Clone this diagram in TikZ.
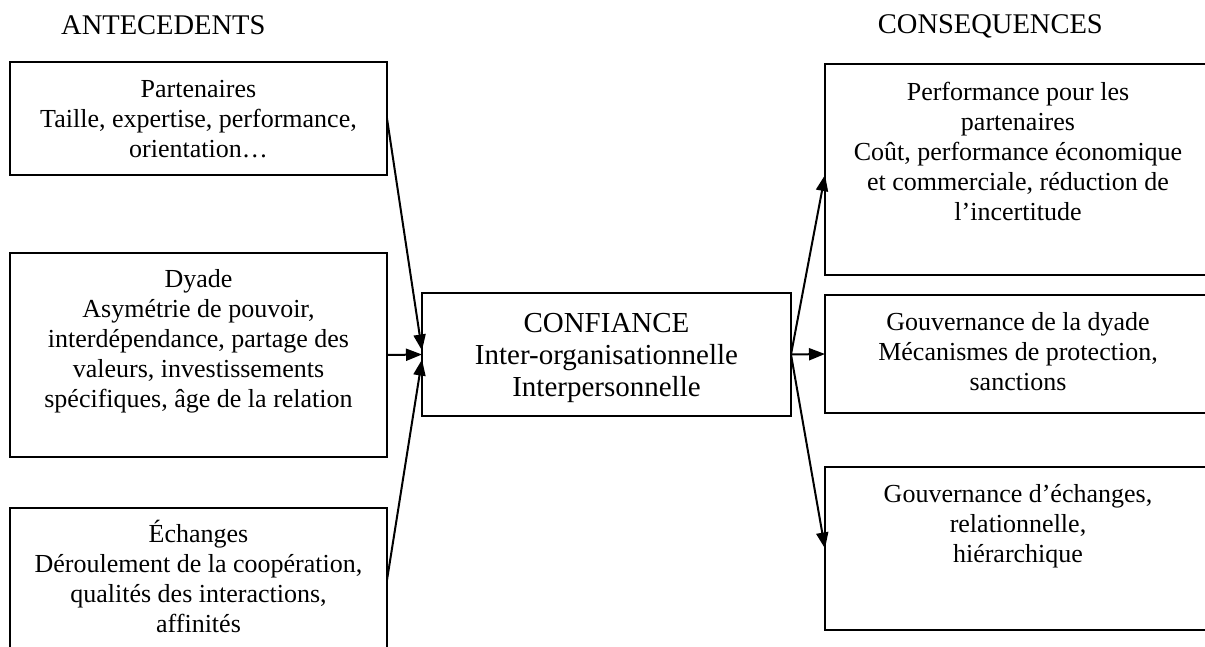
\documentclass[tikz,border=0pt]{standalone}
\usepackage{fontspec}
\setmainfont{Liberation Serif}
\usetikzlibrary{arrows.meta}

% centred block of lines whose baseline is that of its first line
\newcommand{\cell}[2]{\parbox[t]{#1}{\centering #2}}

\begin{document}
\begin{tikzpicture}[x=1pt,y=-1pt,
  frame/.style={draw, line width=2pt, inner sep=0pt, outer sep=0pt},
  txt/.style={anchor=base, inner sep=0pt, font=\fontsize{26}{30}\selectfont},
  bigtxt/.style={anchor=base, inner sep=0pt, font=\fontsize{29}{32}\selectfont},
  head/.style={inner sep=0pt, font=\fontsize{28.5}{32}\selectfont},
  link/.style={line width=2pt, -{Triangle[length=16pt,width=12pt]}}]
\useasboundingbox (0,0) rectangle (1205,646);
\clip (0,0) rectangle (1205,646);

% column headings
\node[head, anchor=base west] (anthead) at (61,34) {ANTECEDENTS};
\node[head, anchor=base east] (conshead) at (1103,33.5) {CONSEQUENCES};

% antecedents
\node[frame, minimum width=377pt, minimum height=113pt] (part) at (198.5,118.5) {};
\node[frame, minimum width=377pt, minimum height=204pt] (dyad) at (198.5,355) {};
\node[frame, minimum width=377pt, minimum height=144pt] (ech)  at (198.5,580) {};

\node[txt] (parttxt) at (198.5,97) {\cell{370pt}{Partenaires\\
  Taille, expertise, performance,\\ orientation…}};
\node[txt] (dyadtxt) at (198.5,287) {\cell{370pt}{Dyade\\
  Asymétrie de pouvoir,\\ interdépendance, partage des\\
  valeurs, investissements\\ spécifiques, âge de la relation}};
\node[txt] (echtxt) at (198.5,542) {\cell{370pt}{Échanges\\
  Déroulement de la coopération,\\ qualités des interactions,\\ affinités}};

% trust
\node[frame, minimum width=369pt, minimum height=123pt] (conf) at (606.5,354.5) {};
\node[bigtxt] (conftxt) at (606.5,332) {\cell{360pt}{CONFIANCE\\
  Inter-organisationnelle\\ Interpersonnelle}};

% consequences
\node[frame, minimum width=386pt, minimum height=211pt] (perf) at (1018,169.5) {};
\node[frame, minimum width=386pt, minimum height=118pt] (gov)  at (1018,354) {};
\node[frame, minimum width=386pt, minimum height=163pt] (gex)  at (1018,548.5) {};

\node[txt] (perftxt) at (1018,100) {\cell{384pt}{Performance pour les\\ partenaires\\
  Coût, performance économique\\ et commerciale, réduction de\\ l’incertitude}};
\node[txt] (govtxt) at (1018,330) {\cell{384pt}{Gouvernance de la dyade\\
  Mécanismes de protection,\\ sanctions}};
\node[txt] (gextxt) at (1018,502) {\cell{384pt}{Gouvernance d’échanges,\\
  relationnelle,\\ hiérarchique}};

% links
\draw[link] (part.east) -- ([yshift=4pt]conf.west);
\draw[link] (dyad.east) -- (conf.west);
\draw[link] (ech.east) -- ([yshift=-5pt]conf.west);
\draw[link] (conf.east) -- ([yshift=-5.5pt]perf.west);
\draw[link] (conf.east) -- (gov.west);
\draw[link] (conf.east) -- (gex.west);
\end{tikzpicture}
\end{document}
